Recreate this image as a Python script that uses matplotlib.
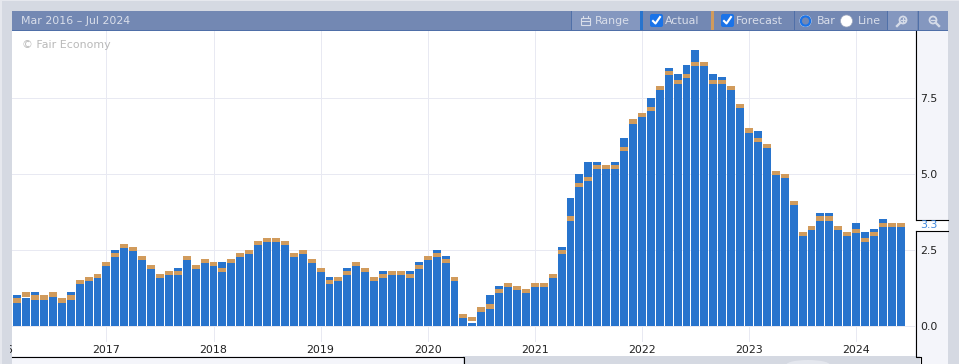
import matplotlib
matplotlib.use("Agg")
import matplotlib.pyplot as plt
from matplotlib.patches import Rectangle, Circle, FancyBboxPatch, Ellipse
from matplotlib.transforms import Bbox, TransformedBbox

W, H = 959, 364

# months since Jan 2016
months = list(range(2, 102))

actual = [1.0, 0.9, 1.1, 1.0, 1.0, 0.9, 1.1, 1.5, 1.6, 1.7,
          2.1, 2.5, 2.7, 2.6, 2.3, 2.0, 1.7, 1.8, 1.9, 2.3, 2.0, 2.2,
          2.1, 2.1, 2.2, 2.4, 2.5, 2.8, 2.9, 2.9, 2.8, 2.4, 2.5, 2.2,
          1.9, 1.6, 1.6, 1.9, 2.1, 1.9, 1.6, 1.8, 1.8, 1.8, 1.8, 2.1,
          2.3, 2.5, 2.3, 1.6, 0.4, 0.1, 0.6, 1.0, 1.3, 1.4, 1.3, 1.2,
          1.4, 1.4, 1.7, 2.6, 4.2, 5.0, 5.4, 5.4, 5.3, 5.4, 6.2, 6.8,
          7.0, 7.5, 7.9, 8.5, 8.3, 8.6, 9.1, 8.7, 8.3, 8.2, 7.9, 7.3,
          6.5, 6.4, 6.0, 5.1, 5.0, 4.1, 3.1, 3.3, 3.7, 3.7, 3.3, 3.1,
          3.4, 3.1, 3.2, 3.5, 3.4, 3.3]

forecast = [0.9, 1.1, 1.0, 1.0, 1.1, 0.9, 1.0, 1.5, 1.6, 1.7,
            2.1, 2.4, 2.7, 2.6, 2.3, 2.0, 1.7, 1.8, 1.8, 2.3, 2.0, 2.2,
            2.1, 1.9, 2.2, 2.4, 2.5, 2.8, 2.9, 2.9, 2.8, 2.4, 2.5, 2.2,
            1.9, 1.5, 1.6, 1.8, 2.1, 1.9, 1.6, 1.7, 1.8, 1.8, 1.7, 2.0,
            2.3, 2.4, 2.2, 1.6, 0.4, 0.3, 0.6, 0.7, 1.2, 1.4, 1.3, 1.2,
            1.4, 1.4, 1.7, 2.5, 3.6, 4.7, 4.9, 5.3, 5.3, 5.3, 5.9, 6.8,
            7.0, 7.2, 7.9, 8.4, 8.1, 8.3, 8.7, 8.7, 8.1, 8.1, 7.9, 7.3,
            6.5, 6.2, 6.0, 5.1, 5.0, 4.1, 3.1, 3.3, 3.6, 3.6, 3.3, 3.1,
            3.2, 2.9, 3.1, 3.4, 3.4, 3.4]

year_ticks = [12, 24, 36, 48, 60, 72, 84, 96]
year_labels = ["2017", "2018", "2019", "2020", "2021", "2022", "2023", "2024"]
value_ticks = [0.0, 2.5, 5.0, 7.5]
value_labels = ["0.0", "2.5", "5.0", "7.5"]
latest_label = "3.3"

BLUE = "#2874cd"
TAN = "#d19b5c"
GRID = "#e8e9f2"
PAGE = "#d5d9e2"
PANEL = "#f4f5fa"
HEAD = "#7388b3"
BTN = "#8497bf"
SEP = "#4f6fa8"
HTXT = "#d9deea"
BRIGHT = "#1a73e8"
FS = 7.9
FAM = "DejaVu Sans"

fig = plt.figure(figsize=(W / 100, H / 100), dpi=100, facecolor=PAGE)


def px_axes(x0, y0, x1, y1, z):
    return fig.add_axes([x0 / W, 1 - y1 / H, (x1 - x0) / W, (y1 - y0) / H], zorder=z)


# back layer: page panels
back = px_axes(0, 0, W, H, 0)
back.set_xlim(0, W)
back.set_ylim(H, 0)
back.axis("off")
back.add_patch(Rectangle((12, 30), 903, 326, fc="white", ec="none"))
back.add_patch(Rectangle((915, 30), 33, 326, fc=PANEL, ec="none"))
back.add_patch(Rectangle((915, 219.5), 33, 11, fc="white", ec="none"))
back.add_patch(Rectangle((12, 356), 451, 8, fc=PANEL, ec="none"))
back.add_patch(Rectangle((920, 356), 28, 8, fc=PANEL, ec="none"))
back.add_patch(Rectangle((0, 0), 2, H, fc="#e6e8ee", ec="none"))
back.add_patch(Rectangle((0, 0), W, 1, fc="#e6e8ee", ec="none"))
back.add_patch(Ellipse((808, 365), 44, 10, fc="#e4e7ee", ec="none"))

# main chart
PX_PER_MONTH = 8.925
PX_PER_UNIT = 30.35
X_JAN17 = 106.4
Y_ZERO = 325.7
AX_L, AX_R, AX_T, AX_B = 12, 915, 31, 342
ax = px_axes(AX_L, AX_T, AX_R, AX_B, 1)
ax.set_xlim(12 + (AX_L - X_JAN17) / PX_PER_MONTH, 12 + (AX_R - X_JAN17) / PX_PER_MONTH)
ax.set_ylim((Y_ZERO - AX_B) / PX_PER_UNIT, (Y_ZERO - AX_T) / PX_PER_UNIT)
ax.patch.set_alpha(0)
for s in ax.spines.values():
    s.set_visible(False)
ax.set_axisbelow(True)
ax.grid(True, color=GRID, lw=0.72)
ax.set_xticks(year_ticks, year_labels, fontsize=FS, family=FAM, color="#222222")
ax.yaxis.tick_right()
ax.set_yticks(value_ticks, value_labels, fontsize=FS, family=FAM, color="#222222")
ax.tick_params(axis="x", length=0, pad=2.2)
ax.tick_params(axis="y", length=0, pad=3.6)

BAND = 4.2 / PX_PER_UNIT
ax.bar(months, actual, width=0.89, color=BLUE, lw=0)
ax.bar(months, [BAND] * len(forecast), bottom=[f - BAND for f in forecast],
       width=0.89, color=TAN, lw=0)
t2016 = ax.text(0, -0.0096, "2016", transform=ax.get_xaxis_transform(), ha="center", va="top",
                fontsize=FS, family=FAM, color="#222222")
t2016.set_clip_on(True)
t2016.set_clip_box(TransformedBbox(Bbox([[10 / W, 0], [1, 1]]), fig.transFigure))

# front layer: header, controls, outlines
top = px_axes(0, 0, W, H, 2)
top.set_xlim(0, W)
top.set_ylim(H, 0)
top.axis("off")
top.patch.set_alpha(0)

top.add_patch(Rectangle((12, 11), 936, 19, fc=HEAD, ec="none"))
top.add_patch(Rectangle((12, 30), 936, 1, fc=SEP, ec="none"))
top.add_patch(Rectangle((571, 11), 69, 19, fc=BTN, ec="none"))
top.add_patch(Rectangle((887, 11), 30, 19, fc=BTN, ec="none"))
top.add_patch(Rectangle((918, 11), 30, 19, fc=BTN, ec="none"))
for sx in (570.5, 793.5, 886.5, 917.5):
    top.plot([sx, sx], [11, 30], color=SEP, lw=0.7)
top.add_patch(Rectangle((640, 11), 3, 19, fc=BLUE, ec="none"))
top.add_patch(Rectangle((711, 11), 3, 19, fc=TAN, ec="none"))


def htext(x, s):
    top.text(x, 21, s, fontsize=FS, family=FAM, color=HTXT, va="center", ha="left")


htext(21, "Mar 2016 – Jul 2024")
htext(595, "Range")
htext(665, "Actual")
htext(736, "Forecast")
htext(817, "Bar")
htext(858, "Line")

# calendar icon
top.add_patch(Rectangle((580.5, 17.5), 9, 7.5, fc="none", ec=HTXT, lw=0.8))
top.plot([580.5, 589.5], [20.5, 20.5], color=HTXT, lw=0.8)
top.plot([582.5, 582.5], [15.5, 17.5], color=HTXT, lw=0.8)
top.plot([587.5, 587.5], [15.5, 17.5], color=HTXT, lw=0.8)

# check boxes
for bx in (650, 721):
    top.add_patch(FancyBboxPatch((bx + 1, 15), 11, 11, boxstyle="round,pad=1,rounding_size=2",
                                 fc=BRIGHT, ec="none"))
    top.plot([bx + 3, bx + 5.5, bx + 10], [21, 23.5, 17], color="white", lw=1.5)

# radios
top.add_patch(Circle((805.5, 21), 6, fc="white", ec="none"))
top.add_patch(Circle((805.5, 21), 4.7, fc=HEAD, ec=BRIGHT, lw=1.6))
top.add_patch(Circle((846.5, 21), 6, fc="white", ec="#9aa5bd", lw=0.5))

# zoom icons
ICON = "#d5dbe8"
for cx, plus in ((903, True), (933, False)):
    top.add_patch(Circle((cx, 20), 3.5, fc="none", ec=ICON, lw=1.3))
    if plus:
        top.plot([cx - 3, cx - 6], [23, 26], color=ICON, lw=1.7)
        top.plot([cx, cx], [18.2, 21.8], color=ICON, lw=0.9)
    else:
        top.plot([cx + 3, cx + 6], [23, 26], color=ICON, lw=1.7)
    top.plot([cx - 1.8, cx + 1.8], [20, 20], color=ICON, lw=0.9)

top.text(22, 44.5, "© Fair Economy", fontsize=FS, family=FAM, color="#b9b9b9", va="center", ha="left")
top.text(920, 225.5, latest_label, fontsize=FS, family=FAM, color="#3f88dd", va="center", ha="left")

# outlines
k = dict(color="black", lw=0.8, solid_capstyle="projecting")
top.plot([915.5, 915.5], [31, 219.5], **k)
top.plot([915.5, 948], [219.5, 219.5], **k)
top.plot([915.5, 948], [230.5, 230.5], **k)
top.plot([915.5, 915.5, 920.5, 920.5], [230.5, 356.5, 356.5, 364], **k)
top.plot([12, 463.5, 463.5], [356.5, 356.5, 364], **k)
top.add_patch(Rectangle((0, 0), 2, H, fc="#e6e8ee", ec="none", zorder=6))

fig.savefig("out.png", dpi=100, facecolor=fig.get_facecolor())
